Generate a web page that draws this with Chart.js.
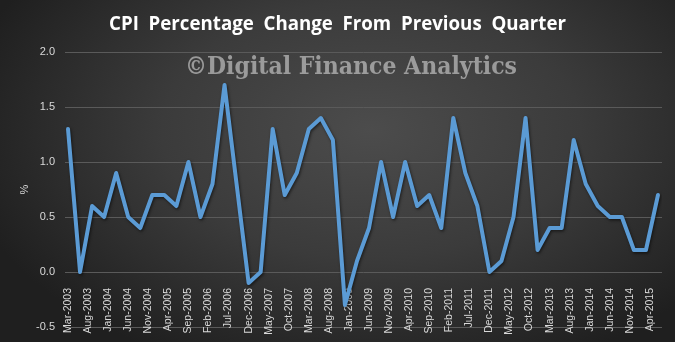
<!DOCTYPE html>
<html>
<head>
<meta charset="utf-8">
<script src="https://cdn.jsdelivr.net/npm/chart.js@4/dist/chart.umd.min.js"></script>
<style>
  html, body { margin: 0; padding: 0; }
  body {
    width: 675px; height: 342px; overflow: hidden;
    background: radial-gradient(ellipse 62% 75% at 55% 38%, #4c4c4c 0%, #3b3b3b 50%, #1f1f1f 100%);
  }
  #cpi { display: block; }
</style>
</head>
<body>
<canvas id="cpi" width="675" height="342"></canvas>
<script>
// Quarterly CPI change, Mar-2003 to Jun-2015
const quarters = [
  'Mar-2003','Jun-2003','Sep-2003','Dec-2003','Mar-2004','Jun-2004','Sep-2004','Dec-2004',
  'Mar-2005','Jun-2005','Sep-2005','Dec-2005','Mar-2006','Jun-2006','Sep-2006','Dec-2006',
  'Mar-2007','Jun-2007','Sep-2007','Dec-2007','Mar-2008','Jun-2008','Sep-2008','Dec-2008',
  'Mar-2009','Jun-2009','Sep-2009','Dec-2009','Mar-2010','Jun-2010','Sep-2010','Dec-2010',
  'Mar-2011','Jun-2011','Sep-2011','Dec-2011','Mar-2012','Jun-2012','Sep-2012','Dec-2012',
  'Mar-2013','Jun-2013','Sep-2013','Dec-2013','Mar-2014','Jun-2014','Sep-2014','Dec-2014',
  'Mar-2015','Jun-2015'
];
const cpiChange = [
  1.3, 0.0, 0.6, 0.5, 0.9, 0.5, 0.4, 0.7,
  0.7, 0.6, 1.0, 0.5, 0.8, 1.7, 0.8, -0.1,
  0.0, 1.3, 0.7, 0.9, 1.3, 1.4, 1.2, -0.3,
  0.1, 0.4, 1.0, 0.5, 1.0, 0.6, 0.7, 0.4,
  1.4, 0.9, 0.6, 0.0, 0.1, 0.5, 1.4, 0.2,
  0.4, 0.4, 1.2, 0.8, 0.6, 0.5, 0.5, 0.2,
  0.2, 0.7
];
// Date axis labels, one every five months from Mar-2003
const tickLabels = [
  'Mar-2003','Aug-2003','Jan-2004','Jun-2004','Nov-2004','Apr-2005','Sep-2005','Feb-2006',
  'Jul-2006','Dec-2006','May-2007','Oct-2007','Mar-2008','Aug-2008','Jan-2009','Jun-2009',
  'Nov-2009','Apr-2010','Sep-2010','Feb-2011','Jul-2011','Dec-2011','May-2012','Oct-2012',
  'Mar-2013','Aug-2013','Jan-2014','Jun-2014','Nov-2014','Apr-2015'
];
const yTicks = [-0.5, 0.0, 0.5, 1.0, 1.5, 2.0];

const MONTH_NAMES = ['Jan','Feb','Mar','Apr','May','Jun','Jul','Aug','Sep','Oct','Nov','Dec'];
// month offset from Mar-2003
function monthOffset(label) {
  const [m, y] = label.split('-');
  return (parseInt(y, 10) - 2003) * 12 + MONTH_NAMES.indexOf(m) - 2;
}
const points = quarters.map((q, i) => ({ x: monthOffset(q), y: cpiChange[i] }));
const tickStep = monthOffset(tickLabels[1]) - monthOffset(tickLabels[0]);

const watermark = {
  id: 'watermark',
  afterDatasetsDraw(chart) {
    const ctx = chart.ctx;
    ctx.save();
    ctx.font = 'bold 24px "DejaVu Serif"';
    const text = '\u00A9Digital Finance Analytics';
    const w = ctx.measureText(text).width;
    const target = 332;
    ctx.translate(351, 68);
    ctx.scale(target / w, 1);
    ctx.fillStyle = 'rgba(185,185,185,0.75)';
    ctx.textAlign = 'center';
    ctx.textBaseline = 'middle';
    ctx.fillText(text, 0, 0);
    ctx.restore();
  }
};

const lineShadow = {
  id: 'lineShadow',
  beforeDatasetDraw(chart) {
    const ctx = chart.ctx;
    ctx.save();
    ctx.shadowColor = 'rgba(0,0,0,0.55)';
    ctx.shadowBlur = 3;
    ctx.shadowOffsetX = 1;
    ctx.shadowOffsetY = 1.5;
  },
  afterDatasetDraw(chart) {
    chart.ctx.restore();
  }
};

new Chart(document.getElementById('cpi'), {
  type: 'line',
  data: {
    datasets: [{
      data: points,
      borderColor: '#5b9bd5',
      borderWidth: 4,
      borderJoinStyle: 'round',
      borderCapStyle: 'round',
      pointRadius: 0,
      tension: 0,
      fill: false
    }]
  },
  options: {
    responsive: false,
    animation: false,
    devicePixelRatio: 1,
    layout: { padding: { left: 13, right: 13, top: 0, bottom: 15 } },
    plugins: {
      legend: { display: false },
      tooltip: { enabled: false },
      title: {
        display: true,
        text: 'CPI  Percentage  Change  From  Previous  Quarter',
        color: '#ffffff',
        font: { family: '"Open Sans"', size: 18.7, weight: 'bold', lineHeight: 1.2 },
        padding: { top: 13.5, bottom: 16.1 }
      }
    },
    scales: {
      x: {
        type: 'linear',
        position: { y: 0 },
        min: -0.75,
        max: 148,
        afterFit(scale) {
          scale.height = 0;
          scale.paddingTop = 0;
          scale.paddingBottom = 0;
        },
        afterBuildTicks(scale) {
          scale.ticks = tickLabels.map(l => ({ value: monthOffset(l) }));
        },
        grid: { display: false },
        border: { display: false },
        ticks: {
          autoSkip: false,
          includeBounds: false,
          stepSize: tickStep,
          minRotation: 90,
          maxRotation: 90,
          padding: 8,
          color: '#d9d9d9',
          font: { family: '"Liberation Sans"', size: 10.5 },
          callback(value) {
            const i = tickLabels.findIndex(l => monthOffset(l) === value);
            return i >= 0 ? tickLabels[i] : '';
          }
        }
      },
      y: {
        min: yTicks[0],
        max: yTicks[yTicks.length - 1],
        afterFit(scale) {
          scale.width = 52;
          scale.paddingBottom = 0;
        },
        afterBuildTicks(scale) {
          scale.ticks = yTicks.map(v => ({ value: v }));
        },
        grid: { color: '#5a5a5a', lineWidth: 1, drawTicks: false },
        border: { display: false },
        ticks: {
          padding: 10,
          color: '#d9d9d9',
          font: { family: '"Liberation Sans"', size: 11 },
          callback(value) { return value.toFixed(1); }
        },
        title: {
          display: true,
          text: '%',
          color: '#d9d9d9',
          font: { family: '"Liberation Sans"', size: 11 },
          padding: { top: 5, bottom: 0 }
        }
      }
    }
  },
  plugins: [lineShadow, watermark]
});
</script>
</body>
</html>
